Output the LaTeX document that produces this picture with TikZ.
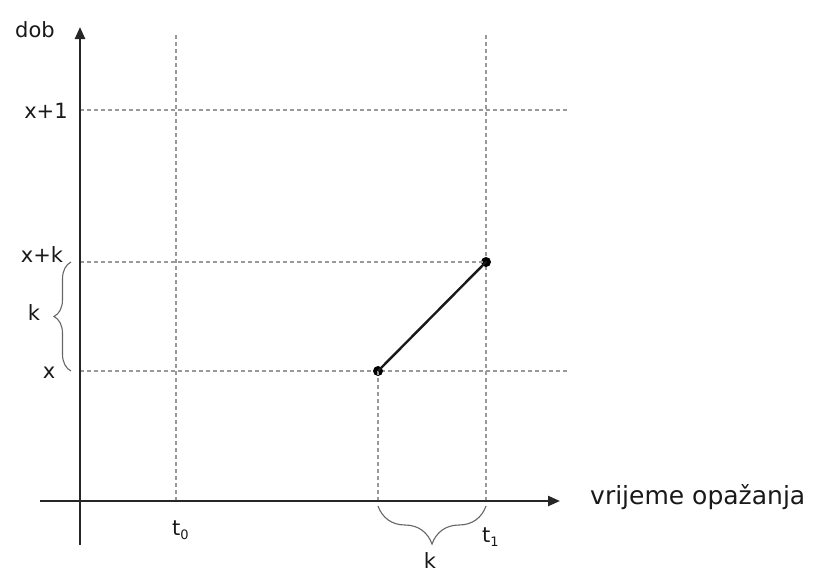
\documentclass[tikz,border=0pt]{standalone}
\usepackage{fontspec}
\setmainfont{DejaVu Sans}
\usetikzlibrary{arrows.meta,decorations.pathreplacing}
\begin{document}
\begin{tikzpicture}[x=1pt,y=-1pt,
  axis/.style={line width=2.4pt,draw=black!85,-{Triangle[length=12pt,width=10pt]}},
  grid/.style={draw=black!40,line width=1.1pt,dash pattern=on 4pt off 3pt},
  lbl/.style={font=\fontsize{21}{24}\selectfont,inner sep=0pt,text=black!90},
  pt/.style={circle,fill=black,inner sep=0pt,minimum size=10pt},
  br/.style={draw=black!60,line width=1.1pt,decorate}]
\useasboundingbox (0,0) rectangle (814,574);
% coordinates
\coordinate (yb) at (80,545);
\coordinate (yt) at (80,27);
\coordinate (xl) at (40,501);
\coordinate (xr) at (560,501);
\coordinate (t0top) at (176,35);
\coordinate (t0bot) at (176,501);
\coordinate (t1top) at (486,35);
\coordinate (t1bot) at (486,501);
\coordinate (h1l) at (80,110);
\coordinate (h1r) at (568,110);
\coordinate (hkl) at (80,262);
\coordinate (hxl) at (80,371);
\coordinate (hxr) at (568,371);
\coordinate (pxb) at (378,501);
% grid
\draw[grid] (t0top) -- (t0bot);
\draw[grid] (t1top) -- (t1bot);
\draw[grid] (h1l) -- (h1r);
\draw[grid] (hxl) -- (hxr);
\node[pt] (P) at (378,371) {};
\node[pt] (Q) at (486,262) {};
\draw[grid] (hkl) -- (Q.center);
\draw[grid] (P.center) -- (pxb);
% axes
\draw[axis] (yb) -- (yt);
\draw[axis] (xl) -- (xr);
% segment
\draw[line width=2.4pt,black!90] (P.center) -- (Q.center);
% braces
\coordinate (lbA) at (71,371);
\coordinate (lbB) at (71,262);
\draw[br,decoration={brace,amplitude=17pt}] (lbA) -- (lbB);
\coordinate (bbA) at (486,506);
\coordinate (bbB) at (378,506);
\draw[br,decoration={brace,amplitude=38pt}] (bbA) -- (bbB);
% labels
\node[lbl] (dob) at (35,30) {dob};
\node[lbl] (x1) at (46,111) {x+1};
\node[lbl] (xk) at (42,255) {x+k};
\node[lbl] (kl) at (34,313) {k};
\node[lbl] (xx) at (49,373) {x};
\node[lbl,anchor=base west] (t0) at (172,535) {t\raisebox{-0.35ex}{\fontsize{13}{13}\selectfont 0}};
\node[lbl,anchor=base west] (t1) at (482,542) {t\raisebox{-0.35ex}{\fontsize{13}{13}\selectfont 1}};
\node[lbl] (kb) at (430,561) {k};
\node[lbl,anchor=base west,font=\fontsize{25}{28}\selectfont] (xlab) at (590,504) {vrijeme opažanja};
\end{tikzpicture}
\end{document}
